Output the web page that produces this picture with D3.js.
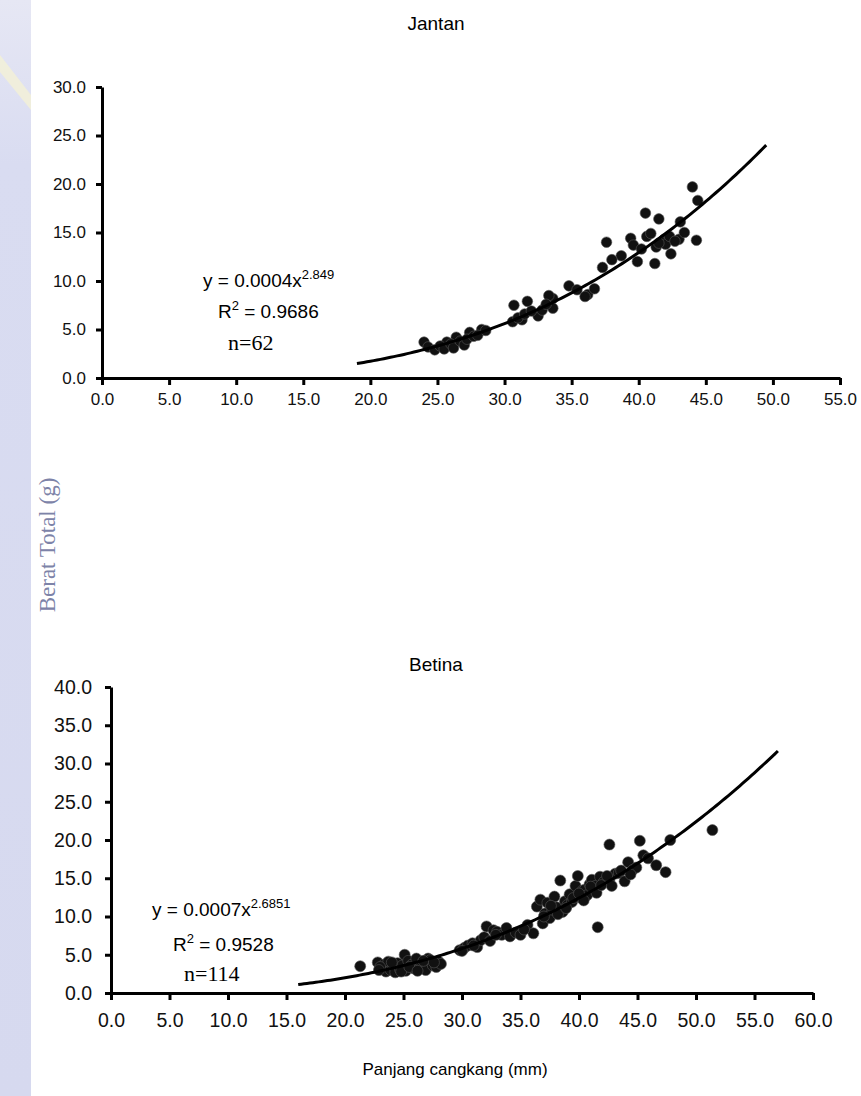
<!DOCTYPE html>
<html>
<head>
<meta charset="utf-8">
<script src="https://cdn.jsdelivr.net/npm/d3@7"></script>
<style>
  body { margin: 0; background: #fff; }
  svg { display: block; }
</style>
</head>
<body>
<svg id="chart" width="861" height="1096"></svg>
<script>
// ---- data ----
const jantanPoints = [
  [44.0,19.7],[44.4,18.3],[40.5,17.0],[41.5,16.4],[43.1,16.1],[37.6,14.0],[39.4,14.4],[40.6,14.6],
  [41.9,14.3],[43.0,14.3],[44.3,14.2],[41.3,13.5],[42.4,12.8],[39.6,13.7],[38.7,12.6],[39.9,12.0],
  [41.2,11.8],[37.3,11.4],[34.8,9.5],[35.4,9.1],[36.2,8.6],[36.7,9.2],[33.6,8.2],[33.6,7.2],
  [30.7,7.5],[31.7,7.9],[33.3,8.5],[32.5,6.4],[30.6,5.8],[31.3,6.0],[28.3,5.0],[27.4,4.7],
  [26.4,4.2],[25.7,3.7],[24.0,3.7],[24.3,3.2],[24.8,2.9],[25.2,3.3],[25.5,3.0],[26.0,3.5],
  [26.2,3.1],[26.7,3.8],[27.0,3.4],[27.2,4.0],[27.7,4.3],[28.0,4.4],[28.6,4.9],[31.0,6.2],
  [31.5,6.6],[32.0,6.9],[32.8,7.0],[33.1,7.6],[36.0,8.4],[41.7,14.0],[42.0,13.8],[42.3,14.6],
  [41.5,13.9],[42.7,14.1],[40.9,14.9],[43.4,15.0],[38.0,12.2],[40.2,13.3]
];
const betinaPoints = [
  [21.3,3.5],[22.8,4.0],[23.1,3.2],[23.3,3.7],[23.5,2.8],[23.7,4.1],[23.9,3.0],[24.1,3.5],
  [24.3,2.7],[24.5,3.9],[24.7,3.1],[24.9,3.6],[25.1,5.0],[25.2,2.9],[25.4,4.2],[25.7,3.7],
  [25.9,3.2],[26.1,4.5],[26.4,3.3],[26.6,3.9],[26.9,3.0],[27.1,4.5],[27.3,4.3],[27.5,3.6],
  [27.8,3.4],[28.0,4.1],[28.2,3.8],[23.0,3.4],[24.0,4.0],[24.8,2.8],[25.5,3.4],[26.2,2.9],
  [26.7,4.2],[27.6,4.0],[22.9,3.0],
  [29.8,5.6],[30.2,5.9],[30.5,6.2],[30.9,6.5],[31.3,6.0],[31.6,6.9],[31.9,7.3],[32.1,8.7],
  [32.4,6.8],[32.7,8.2],[33.0,8.0],[33.4,7.6],[33.8,8.5],[34.1,7.4],[34.6,7.9],[35.0,7.6],
  [35.6,8.9],[36.1,7.8],[36.4,11.3],[36.7,12.2],[36.9,9.1],[30.0,5.5],[31.0,6.2],[32.9,7.6],
  [35.3,8.3],
  [37.1,10.4],[37.3,11.8],[37.5,9.8],[37.7,10.9],[37.9,12.6],[38.1,11.2],[38.4,14.7],[38.6,10.6],
  [38.8,12.0],[39.0,11.5],[39.2,12.9],[39.4,11.9],[39.7,14.0],[39.9,15.3],[40.1,12.5],[40.3,13.4],
  [40.5,13.5],[40.7,12.8],[40.9,14.2],[41.1,14.8],[41.3,13.6],[41.4,14.0],[41.5,13.1],[41.6,8.6],
  [41.8,15.2],[42.1,14.5],[42.6,14.8],[42.6,19.4],[42.8,14.0],[43.1,15.6],[43.4,15.7],[43.9,14.6],
  [44.2,17.1],[44.6,16.1],[44.9,16.4],[45.2,19.9],[45.5,18.0],[45.9,17.6],[46.6,16.7],[47.4,15.8],
  [47.8,20.0],[51.4,21.3],[37.0,10.0],[37.6,11.4],[38.2,10.3],[38.9,11.1],[39.5,12.4],[40.0,13.0],
  [40.4,12.1],[41.0,13.9],[41.9,14.1],[42.4,15.3],[43.6,16.0],[44.4,15.5]
];

const jantanXTicks = [0, 5, 10, 15, 20, 25, 30, 35, 40, 45, 50, 55];
const jantanYTicks = [0, 5, 10, 15, 20, 25, 30];
const betinaXTicks = [0, 5, 10, 15, 20, 25, 30, 35, 40, 45, 50, 55, 60];
const betinaYTicks = [0, 5, 10, 15, 20, 25, 30, 35, 40];

// trendline extent (x range drawn by the spreadsheet)
const jantanTrendRange = [19, 49.5];
const betinaTrendRange = [16, 57];

const jantanLabels = ["y = 0.0004x", "2.849", "0.9686", "n=62"];
const betinaLabels = ["y = 0.0007x", "2.6851", "0.9528", "n=114"];

const yTitle = "Berat Total (g)";
const xTitle = "Panjang cangkang (mm)";

const sans = "'Liberation Sans', Arial, sans-serif";
const serif = "'Liberation Serif', 'Times New Roman', serif";

const svg = d3.select("#chart");

// faded watermark strip on the left of the scan
const defs = svg.append("defs");
const grad = defs.append("linearGradient").attr("id", "strip").attr("x1", 0).attr("y1", 0).attr("x2", 0).attr("y2", 1);
grad.append("stop").attr("offset", 0).attr("stop-color", "#e6e7f4");
grad.append("stop").attr("offset", 0.15).attr("stop-color", "#d9dcf1");
grad.append("stop").attr("offset", 1).attr("stop-color", "#d6d9ef");
svg.append("rect").attr("x", 0).attr("y", 0).attr("width", 31).attr("height", 1096).attr("fill", "url(#strip)");
svg.append("path").attr("d", "M0,55 L31,95 L31,110 L0,72 Z").attr("fill", "#f4f1d6").attr("opacity", 0.8);

svg.append("text")
    .attr("transform", "translate(55,545) rotate(-90)")
    .attr("text-anchor", "middle")
    .attr("font-family", serif)
    .attr("font-size", 23)
    .attr("fill", "#7d83a8")
    .text(yTitle);

// power trendline fitted on the points (least squares in log space)
const powerFit = pts => {
  const n = pts.length;
  let sx = 0, sy = 0, sxx = 0, sxy = 0;
  for (const [x, y] of pts) {
    const lx = Math.log(x), ly = Math.log(y);
    sx += lx; sy += ly; sxx += lx * lx; sxy += lx * ly;
  }
  const b = (n * sxy - sx * sy) / (n * sxx - sx * sx);
  const a = Math.exp((sy - b * sx) / n);
  return x => a * Math.pow(x, b);
};

const panel = ({title, titleY, points, xTicks, yTicks, x, y, trend, labels, font, xPad, yPad, eq, r}) => {
  const g = svg.append("g");

  g.append("text")
      .attr("x", 436).attr("y", titleY)
      .attr("text-anchor", "middle")
      .attr("font-family", sans).attr("font-size", 19)
      .text(title);

  const xAxis = g.append("g")
      .attr("transform", `translate(0,${y(0)})`)
      .call(d3.axisBottom(x).tickValues(xTicks).tickFormat(d3.format(".1f")).tickSize(7).tickSizeOuter(0).tickPadding(xPad));
  const yAxis = g.append("g")
      .attr("transform", `translate(${x(0)},0)`)
      .call(d3.axisLeft(y).tickValues(yTicks).tickFormat(d3.format(".1f")).tickSize(6).tickSizeOuter(0).tickPadding(yPad));

  for (const ax of [xAxis, yAxis]) {
    ax.select(".domain").attr("stroke", "#000").attr("stroke-width", 3);
    ax.selectAll(".tick line").attr("stroke", "#000").attr("stroke-width", 3);
    ax.selectAll(".tick text")
        .attr("font-family", sans).attr("font-size", font).attr("fill", "#111");
  }

  const f = powerFit(points);
  const line = d3.line().x(d => x(d)).y(d => y(f(d)));
  const xs = d3.range(trend[0], trend[1], 0.25).concat([trend[1]]);

  g.append("g")
    .selectAll("circle")
    .data(points)
    .join("circle")
      .attr("cx", d => x(d[0]))
      .attr("cy", d => y(d[1]))
      .attr("r", r)
      .attr("fill", "#111")
      .attr("stroke", "#555")
      .attr("stroke-width", 0.6);

  g.append("path")
      .attr("d", line(xs))
      .attr("fill", "none")
      .attr("stroke", "#000")
      .attr("stroke-width", 3);

  // equation block
  const t1 = g.append("text").attr("x", eq.x1).attr("y", eq.y1)
      .attr("font-family", sans).attr("font-size", 19);
  t1.append("tspan").text(labels[0]);
  t1.append("tspan").attr("dy", -8).attr("font-size", 13).text(labels[1]);

  const t2 = g.append("text").attr("x", eq.x2).attr("y", eq.y2)
      .attr("font-family", sans).attr("font-size", 19);
  t2.append("tspan").text("R");
  t2.append("tspan").attr("dy", -8).attr("font-size", 13).text("2");
  t2.append("tspan").attr("dy", 8).text(" = " + labels[2]);

  g.append("text").attr("x", eq.x3).attr("y", eq.y3)
      .attr("font-family", serif).attr("font-size", 22)
      .text(labels[3]);
};

panel({
  title: "Jantan", titleY: 30,
  points: jantanPoints, xTicks: jantanXTicks, yTicks: jantanYTicks,
  x: d3.scaleLinear([0, 55], [102, 840]),
  y: d3.scaleLinear([0, 30], [378, 87]),
  trend: jantanTrendRange, labels: jantanLabels,
  font: 17, xPad: 8, yPad: 10, r: 5.3,
  eq: {x1: 203, y1: 287, x2: 218, y2: 318, x3: 228, y3: 350}
});

panel({
  title: "Betina", titleY: 671,
  points: betinaPoints, xTicks: betinaXTicks, yTicks: betinaYTicks,
  x: d3.scaleLinear([0, 60], [111, 813]),
  y: d3.scaleLinear([0, 40], [993, 687]),
  trend: betinaTrendRange, labels: betinaLabels,
  font: 19.5, xPad: 13, yPad: 13, r: 5.5,
  eq: {x1: 152, y1: 916, x2: 173, y2: 951, x3: 184, y3: 981}
});

svg.append("text")
    .attr("x", 455).attr("y", 1075)
    .attr("text-anchor", "middle")
    .attr("font-family", sans).attr("font-size", 17)
    .text(xTitle);
</script>
</body>
</html>
